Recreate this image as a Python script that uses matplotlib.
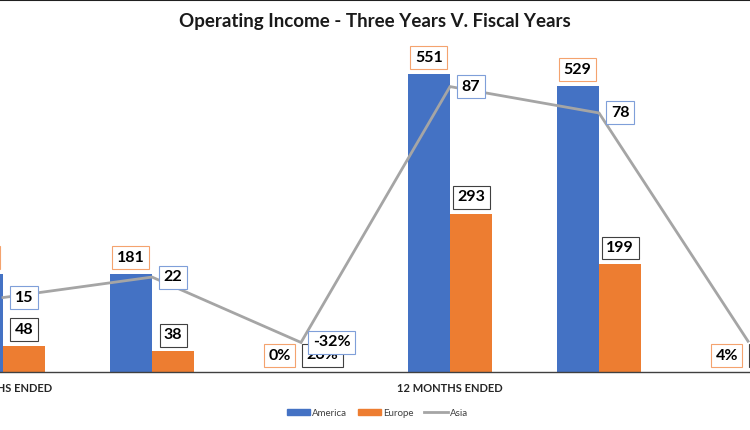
import numpy as np
import matplotlib
matplotlib.use("Agg")
import matplotlib.pyplot as plt
from matplotlib.lines import Line2D
from matplotlib.patches import Patch
from matplotlib.transforms import blended_transform_factory

plt.rcParams['font.family'] = ['Lato', 'DejaVu Sans']

# periods: current / prior / change, for 3 and 12 months
periods = ['3M current', '3M prior', '3M change', '12M current', '12M prior', '12M change']
is_pct = [False, False, True, False, False, True]
america = [181, 181, 0.00, 551, 529, 0.04]
europe = [48, 38, 0.26, 293, 199, 0.47]
asia = [15, 22, -0.32, 87, 78, 0.12]
groups = ['3 MONTHS ENDED', '12 MONTHS ENDED']
group_pos = [0, 3]

c_am = '#4472C4'
c_eu = '#ED7D31'
c_as = '#A5A5A5'

def fmt(v, pct):
    return f"{v:.0%}" if pct else f"{v:g}"

fig = plt.figure(figsize=(7.5, 4.3), dpi=100)
W, H = 750, 430
base, top = 372, 40
ax = fig.add_axes([0, (H - base) / H, 1, (base - top) / H])
ax2 = ax.twinx()

x = np.arange(len(periods))
bw = 0.285
ax.bar(x - bw / 2, america, bw, color=c_am, linewidth=0)
ax.bar(x + bw / 2, europe, bw, color=c_eu, linewidth=0)
ax2.plot(x, asia, color=c_as, lw=2, solid_joinstyle='miter')

ax.set_xlim(-3 / 149, 747 / 149)
ax.set_ylim(0, 613.9)
ax2.set_ylim(-10.4, 102.9)

for a in (ax, ax2):
    a.set_yticks([])
    a.set_xticks([])
    for s in a.spines.values():
        s.set_visible(False)
ax.spines['bottom'].set_visible(True)
ax.spines['bottom'].set_color('#404040')
ax.spines['bottom'].set_linewidth(1)

fs = 11.5
def box(ec):
    return dict(boxstyle='square,pad=0.28', fc='white', ec=ec, lw=0.8)

for i in range(len(x)):
    ax.annotate(fmt(america[i], is_pct[i]), xy=(x[i] - bw / 2, america[i]),
                xytext=(0, 11.8), textcoords='offset points', ha='center', va='center',
                fontsize=fs, fontweight='bold', bbox=box('#F4A36E'), annotation_clip=False)
    ax.annotate(fmt(europe[i], is_pct[i]), xy=(x[i] + bw / 2, europe[i]),
                xytext=(0, 11.8), textcoords='offset points', ha='center', va='center',
                fontsize=fs, fontweight='bold', bbox=box('#404040'), annotation_clip=False)
    ax2.annotate(fmt(asia[i], is_pct[i]), xy=(x[i], asia[i]),
                 xytext=(8.5, 0), textcoords='offset points', ha='left', va='center',
                 fontsize=fs, fontweight='bold', bbox=box('#7F9FD9'), annotation_clip=False,
                 zorder=5)

tr = blended_transform_factory(ax.transData, fig.transFigure)
for g, p in zip(groups, group_pos):
    ax.text(p, 1 - 389 / H, g, transform=tr, ha='center', va='center',
            fontsize=8, fontweight='bold', color='#262626')

fig.text(0.5, 1 - 21 / H, 'Operating Income - Three Years V. Fiscal Years',
         ha='center', va='center', fontsize=13.5, fontweight='bold', color='#1a1a1a')

handles = [Patch(color=c_am, label='America'), Patch(color=c_eu, label='Europe'),
           Line2D([], [], color=c_as, lw=2, label='Asia')]
fig.legend(handles=handles, loc='center', bbox_to_anchor=(0.503, 1 - 413 / H), ncol=3,
           frameon=False, fontsize=7, handlelength=2.4, handleheight=0.55,
           columnspacing=1.1, handletextpad=0.2, labelcolor='#404040')

fig.add_artist(Line2D([0, 1], [1, 1], color='#202020', lw=1.5, transform=fig.transFigure))

fig.savefig('out.png', dpi=100)
